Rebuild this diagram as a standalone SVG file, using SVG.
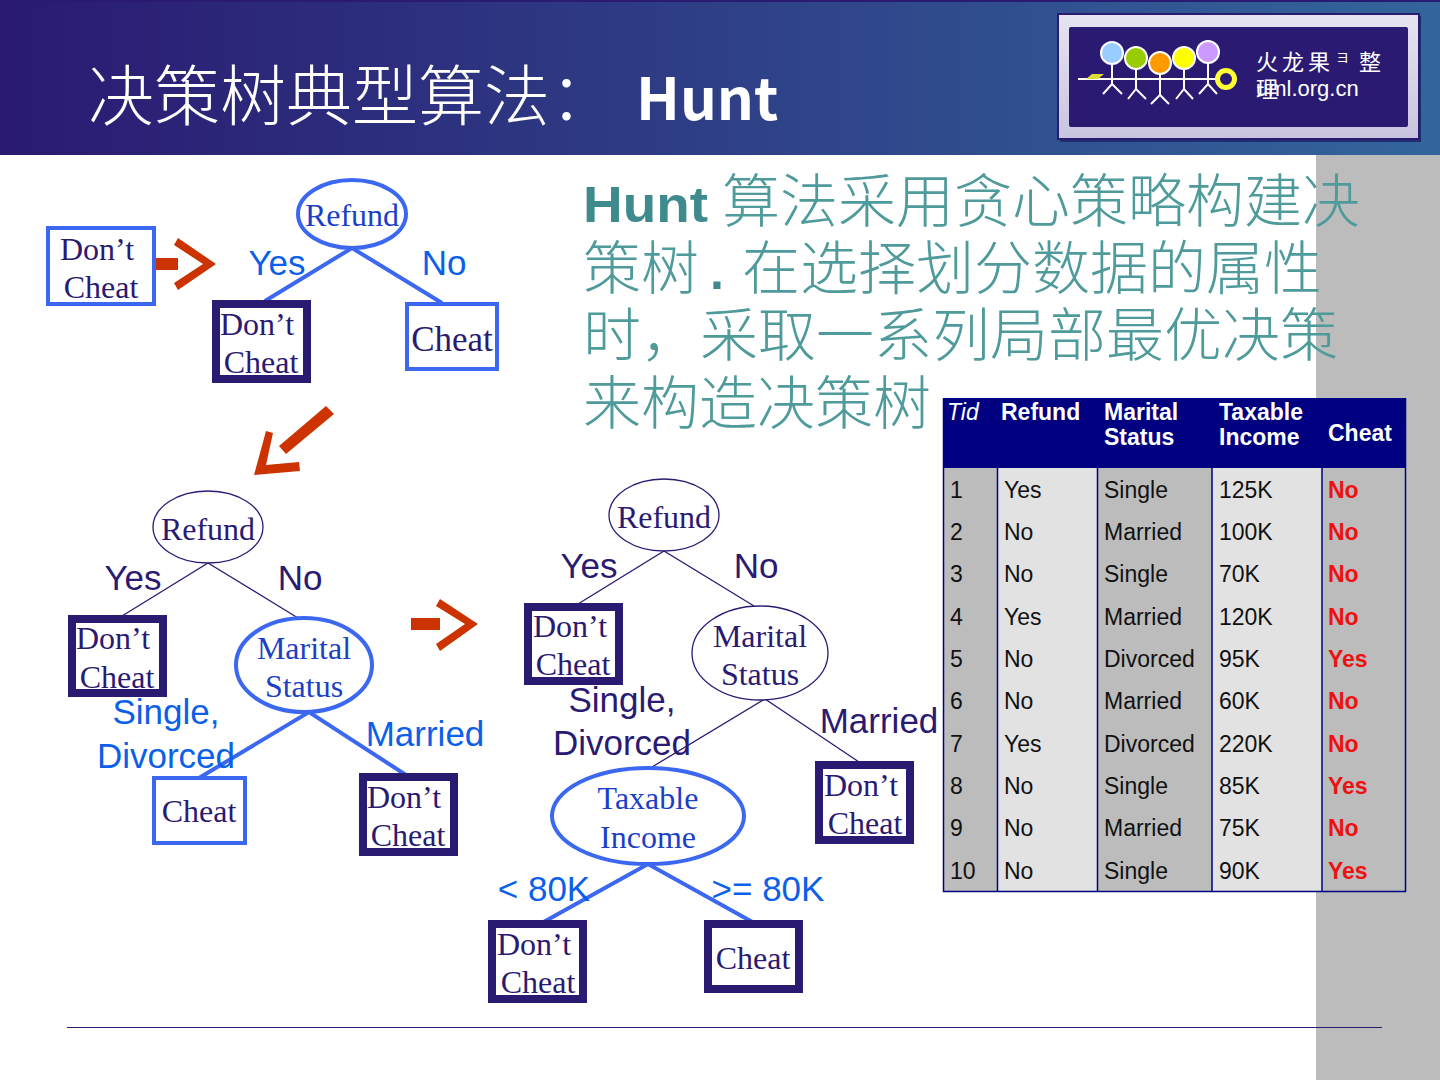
<svg xmlns="http://www.w3.org/2000/svg" width="1440" height="1080" viewBox="0 0 1440 1080">
<defs>
<linearGradient id="hdr" x1="0" x2="1" y1="0" y2="0"><stop offset="0" stop-color="#2a1a72"/><stop offset="1" stop-color="#33659b"/></linearGradient>
<linearGradient id="frame" x1="0" x2="0" y1="0" y2="1"><stop offset="0" stop-color="#e6e4f2"/><stop offset="1" stop-color="#c8c4de"/></linearGradient>
</defs>
<style>
.ser{font-family:"Liberation Serif",serif;font-size:32px;fill:#2a1a72;text-anchor:middle}
.bl{fill:#0b5fe8}
.lab{font-family:"Liberation Sans",sans-serif;font-size:35px;text-anchor:middle}
.dk{fill:#2a1a72}
.bluebox{fill:#fff;stroke:#3c67f0;stroke-width:4}
.darkbox{fill:#fff;stroke:#2a1a72;stroke-width:8}
.thin{fill:#fff;stroke:#2a1a72;stroke-width:1.3}
.thick{fill:#fff;stroke:#3c67f0;stroke-width:4}
.ln{fill:none;stroke:#3c67f0;stroke-width:4}
.lnt{fill:none;stroke:#2a1a72;stroke-width:1.3}
.body{font-family:"Noto Sans CJK SC","Liberation Sans",sans-serif;font-size:58px;font-weight:300;fill:#4f9a9a}
.hl{font-family:"Liberation Sans",sans-serif;font-weight:bold;fill:#3f8a8c}
.th{font-family:"Liberation Sans",sans-serif;font-size:23px;font-weight:bold;fill:#fff}
.td{font-family:"Liberation Sans",sans-serif;font-size:23px;fill:#111}
.r{font-weight:bold;fill:#ee1111}
.man{fill:none;stroke:#fff;stroke-width:2}
</style>
<rect width="1440" height="1080" fill="#fff"/>
<rect x="1316" y="155" width="124" height="925" fill="#bcbcbc"/>
<rect width="1440" height="155" fill="url(#hdr)"/>
<rect width="1440" height="2" fill="#2a1a72"/>
<text x="88" y="120" font-family="Noto Sans CJK SC,sans-serif" font-weight="300" font-size="66" fill="#fff">决策树典型算法：</text>
<text x="636" y="120" font-family="Noto Sans CJK SC,sans-serif" font-weight="700" font-size="58" fill="#fff">Hunt</text>

<g id="logo">
<rect x="1060" y="16" width="361" height="126" fill="#1d2f6e"/>
<rect x="1058" y="14" width="361" height="125" fill="url(#frame)" stroke="#2a1a72" stroke-width="2"/>
<rect x="1069" y="27" width="339" height="100" rx="2" fill="#2a1a72"/>
<path class="man" d="M1078 79H1216"/>
<path d="M1086 79L1092 74H1104L1098 79Z" fill="#dddd33"/>
<path class="man" d="M1112 60V84M1103 94L1112 84L1122 94M1136 66V89M1128 99L1136 89L1146 99M1160 72V95M1151 104L1160 95L1169 104M1184 66V89M1176 99L1184 89L1193 99M1208 60V84M1199 94L1208 84L1217 94"/>
<g stroke="#fff" stroke-width="2"><circle cx="1112" cy="53" r="11" fill="#99ccff"/><circle cx="1136" cy="58" r="11" fill="#99cc00"/><circle cx="1160" cy="63" r="11" fill="#ff9900"/><circle cx="1184" cy="58" r="11" fill="#ffff00"/><circle cx="1208" cy="52" r="11" fill="#cc99ff"/></g>
<circle cx="1226" cy="79" r="8.500" fill="#2a1a72" stroke="#ffff33" stroke-width="5"/>
<text x="1256" y="70" font-family="Noto Sans CJK SC,sans-serif" font-size="22" fill="#fff" letter-spacing="4">火龙果</text>
<text x="1336" y="62" font-family="Noto Sans CJK SC,sans-serif" font-size="13" fill="#fff">ヨ</text>
<text x="1359" y="70" font-family="Noto Sans CJK SC,sans-serif" font-size="22" fill="#fff">整</text>
<text x="1256" y="97" font-family="Noto Sans CJK SC,sans-serif" font-size="22" fill="#fff">理</text>
<text x="1256" y="96" font-family="Liberation Sans,sans-serif" font-size="22" fill="#fff">uml.org.cn</text>
</g>

<g id="body-text">
<text x="583" y="222" class="body"><tspan class="hl" font-size="50" textLength="125" lengthAdjust="spacingAndGlyphs">Hunt</tspan><tspan x="722">算法采用贪心策略构建决</tspan></text>
<text x="583" y="289" class="body">策树<tspan class="hl" font-size="50" x="710">.</tspan><tspan x="742">在选择划分数据的属性</tspan></text>
<text x="583" y="356" class="body">时，<tspan x="700">采取一系列局部最优决策</tspan></text>
<text x="583" y="424" class="body">来构造决策树</text>
</g>

<g id="connectors">
<path class="ln" d="M265 301L352 248L442 303"/>
<path class="lnt" d="M122 616L208 563L298 618"/>
<path class="ln" d="M199 778L309 712L406 775"/>
<path class="lnt" d="M578 604L664 551L754 606"/>
<path class="lnt" d="M652 767L765 699L859 762"/>
<path class="ln" d="M540 924L648 864L756 924"/>
</g>
<g id="big-arrows" fill="#cc3300">
<rect x="156" y="258" width="22" height="12"/><polygon points="174,245 178,238 216,264 178,290 174,283 203,264"/>
<rect x="411" y="618" width="29" height="12"/><polygon points="436,606 440,599 478,624 440,651 436,644 465,624"/>
<polygon points="326,406 334,414 286,454 279,446"/>
<polygon points="266,431 273,433 266,465 299,462 300,471 254,475"/>
</g>

<g id="tree-a">
<g id="a-root"><ellipse class="thick" cx="352" cy="214" rx="54" ry="34"/><text class="ser" style="fill:#1c3fc8" x="352" y="226">Refund</text></g>
<text class="lab bl" x="277" y="275">Yes</text><text class="lab bl" x="444" y="275">No</text>
<g id="a-leaf0"><rect class="bluebox" x="48" y="228" width="106" height="76"/><text class="ser"><tspan x="97" y="260">Don’t</tspan><tspan x="101" y="298">Cheat</tspan></text></g>
<g id="a-leaf1"><rect class="darkbox" x="216" y="304" width="91" height="75"/><text class="ser"><tspan x="257" y="335">Don’t</tspan><tspan x="261" y="373">Cheat</tspan></text></g>
<g id="a-leaf2"><rect class="bluebox" x="407" y="304" width="90" height="65"/><text class="ser" style="font-size:35px" x="452" y="351">Cheat</text></g>
</g>

<g id="tree-b">
<g id="b-root"><ellipse class="thin" cx="208" cy="527" rx="55" ry="36"/><text class="ser" x="208" y="540">Refund</text></g>
<text class="lab dk" x="133" y="590">Yes</text><text class="lab dk" x="300" y="590">No</text>
<g id="b-leaf1"><rect class="darkbox" x="72" y="619" width="91" height="74"/><text class="ser"><tspan x="113" y="649">Don’t</tspan><tspan x="117" y="688">Cheat</tspan></text></g>
<g id="b-mar"><ellipse class="thick" cx="304" cy="665" rx="68" ry="47"/><text class="ser" style="fill:#1c3fc8"><tspan x="304" y="659">Marital</tspan><tspan x="304" y="697">Status</tspan></text></g>
<text class="lab bl"><tspan x="166" y="724">Single,</tspan><tspan x="166" y="768">Divorced</tspan></text>
<text class="lab bl" x="425" y="746">Married</text>
<g id="b-leaf2"><rect class="bluebox" x="154" y="778" width="91" height="65"/><text class="ser" x="199" y="822">Cheat</text></g>
<g id="b-leaf3"><rect class="darkbox" x="363" y="777" width="91" height="75"/><text class="ser"><tspan x="404" y="808">Don’t</tspan><tspan x="408" y="846">Cheat</tspan></text></g>
</g>

<g id="tree-c">
<g id="c-root"><ellipse class="thin" cx="664" cy="515" rx="55" ry="36"/><text class="ser" x="664" y="528">Refund</text></g>
<text class="lab dk" x="589" y="578">Yes</text><text class="lab dk" x="756" y="578">No</text>
<g id="c-leaf1"><rect class="darkbox" x="528" y="607" width="91" height="74"/><text class="ser"><tspan x="570" y="637">Don’t</tspan><tspan x="573" y="675">Cheat</tspan></text></g>
<g id="c-mar"><ellipse class="thin" cx="760" cy="653" rx="68" ry="47"/><text class="ser"><tspan x="760" y="647">Marital</tspan><tspan x="760" y="685">Status</tspan></text></g>
<text class="lab dk"><tspan x="622" y="712">Single,</tspan><tspan x="622" y="755">Divorced</tspan></text>
<text class="lab dk" x="879" y="733">Married</text>
<g id="c-leaf3"><rect class="darkbox" x="819" y="765" width="91" height="75"/><text class="ser"><tspan x="861" y="796">Don’t</tspan><tspan x="865" y="834">Cheat</tspan></text></g>
<g id="c-tax"><ellipse class="thick" cx="648" cy="816" rx="96" ry="48"/><text class="ser" style="fill:#1c3fc8"><tspan x="648" y="809">Taxable</tspan><tspan x="648" y="848">Income</tspan></text></g>
<text class="lab bl" x="544" y="901">&lt; 80K</text><text class="lab bl" x="768" y="901">&gt;= 80K</text>
<g id="c-leaf4"><rect class="darkbox" x="492" y="924" width="91" height="75"/><text class="ser"><tspan x="534" y="955">Don’t</tspan><tspan x="538" y="993">Cheat</tspan></text></g>
<g id="c-leaf5"><rect class="darkbox" x="708" y="924" width="91" height="65"/><text class="ser" x="753" y="969">Cheat</text></g>
</g>

<g id="table">
<rect x="943" y="467" width="55" height="424" fill="#bcbcbc"/>
<rect x="998" y="467" width="100" height="424" fill="#e2e2e2"/>
<rect x="1098" y="467" width="114" height="424" fill="#bcbcbc"/>
<rect x="1212" y="467" width="110" height="424" fill="#e2e2e2"/>
<rect x="1322" y="467" width="83" height="424" fill="#bcbcbc"/>
<rect x="943" y="398" width="462" height="70" fill="#000080"/>
<path d="M943.500 398V891.500H1405.500V398M997.500 467V891M1097.500 467V891M1212 467V891M1322 467V891" fill="none" stroke="#000080" stroke-width="1.500"/>
<text class="th" x="947" y="420" font-style="italic" style="font-weight:normal">Tid</text>
<text class="th" x="1001" y="420">Refund</text>
<text class="th"><tspan x="1104" y="420">Marital</tspan><tspan x="1104" y="445">Status</tspan></text>
<text class="th"><tspan x="1219" y="420">Taxable</tspan><tspan x="1219" y="445">Income</tspan></text>
<text class="th" x="1328" y="441">Cheat</text>
<text class="td"><tspan x="950" y="498">1</tspan><tspan x="950" y="540">2</tspan><tspan x="950" y="582">3</tspan><tspan x="950" y="625">4</tspan><tspan x="950" y="667">5</tspan><tspan x="950" y="709">6</tspan><tspan x="950" y="752">7</tspan><tspan x="950" y="794">8</tspan><tspan x="950" y="836">9</tspan><tspan x="950" y="879">10</tspan></text>
<text class="td"><tspan x="1004" y="498">Yes</tspan><tspan x="1004" y="540">No</tspan><tspan x="1004" y="582">No</tspan><tspan x="1004" y="625">Yes</tspan><tspan x="1004" y="667">No</tspan><tspan x="1004" y="709">No</tspan><tspan x="1004" y="752">Yes</tspan><tspan x="1004" y="794">No</tspan><tspan x="1004" y="836">No</tspan><tspan x="1004" y="879">No</tspan></text>
<text class="td"><tspan x="1104" y="498">Single</tspan><tspan x="1104" y="540">Married</tspan><tspan x="1104" y="582">Single</tspan><tspan x="1104" y="625">Married</tspan><tspan x="1104" y="667">Divorced</tspan><tspan x="1104" y="709">Married</tspan><tspan x="1104" y="752">Divorced</tspan><tspan x="1104" y="794">Single</tspan><tspan x="1104" y="836">Married</tspan><tspan x="1104" y="879">Single</tspan></text>
<text class="td"><tspan x="1219" y="498">125K</tspan><tspan x="1219" y="540">100K</tspan><tspan x="1219" y="582">70K</tspan><tspan x="1219" y="625">120K</tspan><tspan x="1219" y="667">95K</tspan><tspan x="1219" y="709">60K</tspan><tspan x="1219" y="752">220K</tspan><tspan x="1219" y="794">85K</tspan><tspan x="1219" y="836">75K</tspan><tspan x="1219" y="879">90K</tspan></text>
<text class="td r"><tspan x="1328" y="498">No</tspan><tspan x="1328" y="540">No</tspan><tspan x="1328" y="582">No</tspan><tspan x="1328" y="625">No</tspan><tspan x="1328" y="667">Yes</tspan><tspan x="1328" y="709">No</tspan><tspan x="1328" y="752">No</tspan><tspan x="1328" y="794">Yes</tspan><tspan x="1328" y="836">No</tspan><tspan x="1328" y="879">Yes</tspan></text>
</g>
<path d="M67 1027.500H1382" stroke="#2a1a72" stroke-width="1"/>
</svg>
